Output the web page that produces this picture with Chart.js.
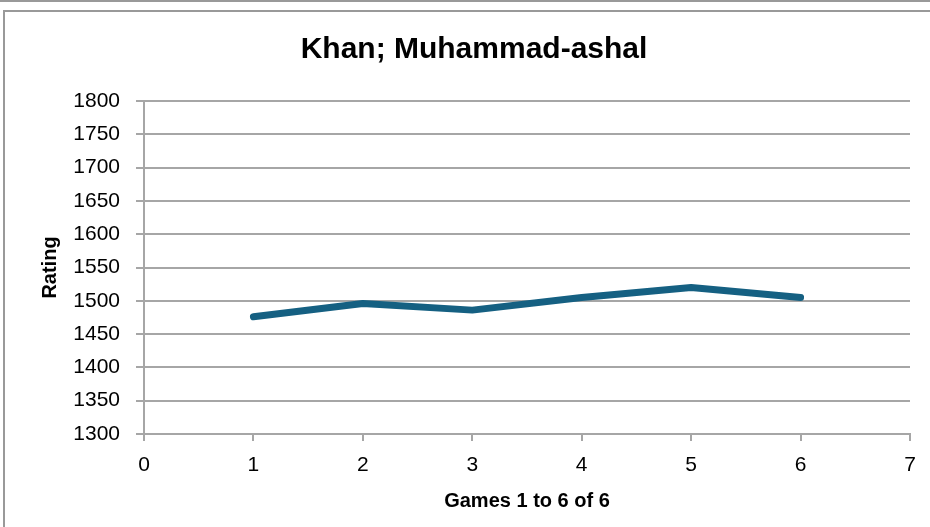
<!DOCTYPE html>
<html>
<head>
<meta charset="utf-8">
<script src="https://cdn.jsdelivr.net/npm/chart.js@4.4.1/dist/chart.umd.min.js"></script>
<style>
  html, body { margin: 0; padding: 0; background: #ffffff; }
  #wrap { position: relative; width: 930px; height: 527px; overflow: hidden; }
  #chart { position: absolute; left: 0; top: 0; }
  .rule { position: absolute; background: #999999; }
</style>
</head>
<body>
<div id="wrap">
  <canvas id="chart" width="930" height="527"></canvas>
  <div class="rule" style="left:0;top:0;width:930px;height:2px"></div>
  <div class="rule" style="left:3px;top:10px;width:927px;height:2px"></div>
  <div class="rule" style="left:3px;top:10px;width:2px;height:517px"></div>
</div>
<script>
// chart data
const games = [1, 2, 3, 4, 5, 6];
const ratings = [1476, 1496, 1486, 1505, 1520, 1505];
const chartTitle = 'Khan; Muhammad-ashal';
const xTitle = 'Games 1 to 6 of 6';
const yTitle = 'Rating';
const xRange = [0, 7];
const yRange = [1300, 1800];

const lineColor = '#156082';
const axisGray = '#a6a6a6';
const font = 'Liberation Sans, Arial, sans-serif';

const points = games.map((g, i) => ({ x: g, y: ratings[i] }));

new Chart(document.getElementById('chart'), {
  type: 'line',
  data: {
    datasets: [{
      data: points,
      borderColor: lineColor,
      borderWidth: 7,
      borderCapStyle: 'round',
      borderJoinStyle: 'round',
      pointRadius: 0,
      fill: false,
      tension: 0,
    }],
  },
  options: {
    responsive: false,
    animation: false,
    layout: {
      // left pad pushes the title centre over to match the reference
      padding: { left: 38, right: 20, top: 0, bottom: 0 },
    },
    plugins: {
      legend: { display: false },
      tooltip: { enabled: false },
      title: {
        display: true,
        text: chartTitle,
        color: '#000000',
        font: { family: font, size: 30, weight: 'bold', lineHeight: 1.2 },
        padding: { top: 32, bottom: 33 },
      },
    },
    scales: {
      x: {
        type: 'linear',
        min: xRange[0],
        max: xRange[1],
        afterFit: (scale) => { scale.height = 93; },
        ticks: {
          stepSize: 1,
          color: '#000000',
          font: { family: font, size: 21 },
          padding: 12,
          maxRotation: 0,
          callback: (v) => String(v),
        },
        grid: {
          drawOnChartArea: false,
          drawTicks: true,
          tickLength: 7,
          color: axisGray,
          lineWidth: 2,
        },
        border: { color: axisGray, width: 2 },
        title: {
          display: true,
          text: xTitle,
          color: '#000000',
          font: { family: font, size: 20, weight: 'bold', lineHeight: 1.2 },
          padding: { top: 0, bottom: 14 },
        },
      },
      y: {
        min: yRange[0],
        max: yRange[1],
        afterFit: (scale) => { scale.width = 106; },
        ticks: {
          stepSize: 50,
          color: '#000000',
          font: { family: font, size: 21 },
          padding: 16,
          callback: (v) => String(v),
        },
        grid: {
          drawTicks: true,
          tickLength: 8,
          color: axisGray,
          lineWidth: 2,
        },
        border: { color: axisGray, width: 2 },
        title: {
          display: true,
          text: yTitle,
          color: '#000000',
          font: { family: font, size: 20, weight: 'bold', lineHeight: 1.2 },
          padding: { top: 0, bottom: 0 },
        },
      },
    },
  },
});
</script>
</body>
</html>
